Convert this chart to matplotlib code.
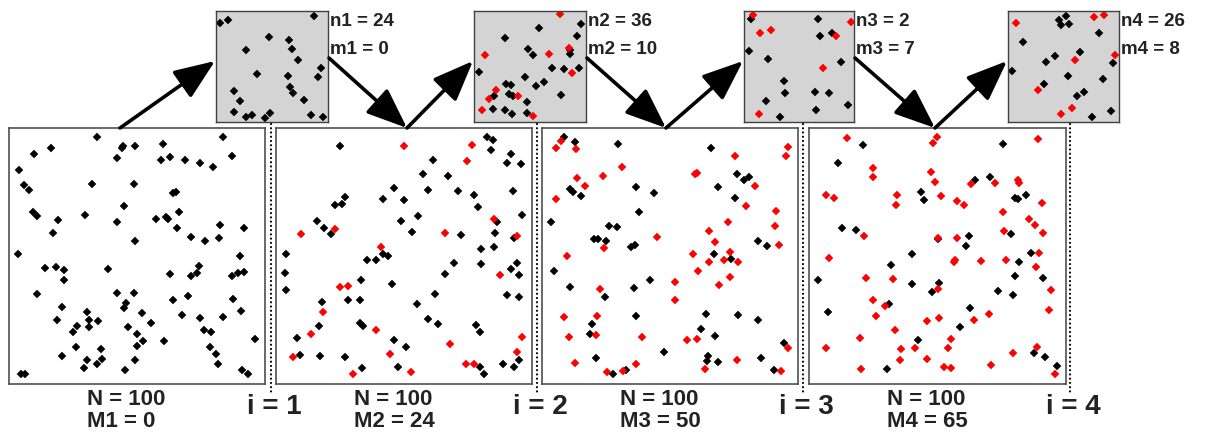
import numpy as np
import matplotlib
matplotlib.use("Agg")
import matplotlib.pyplot as plt
from matplotlib.patches import FancyArrowPatch

plt.rcParams['font.family'] = ['Liberation Sans', 'DejaVu Sans']

# point positions (pixel units inside each panel, y down)
big1_black = [(277,45),(355,70),(352,78),(390,70),(475,64),(655,45),(137,76),(88,95),(337,106),
    (468,113),(496,103),(541,113),(585,122),(624,134),(682,100),(42,143),(57,189),(72,202),
    (261,186),(386,186),(503,213),(512,210),(356,250),(84,268),(97,281),(240,277),(160,293),
    (337,299),(453,290),(484,285),(490,291),(523,268),(517,318),(646,308),(718,318),(143,332),
    (557,345),(599,357),(643,348),(390,357),(39,394),(704,400),(121,436),(152,433),(176,442),
    (176,473),(308,439),(581,430),(575,452),(557,461),(496,455),(682,461),(700,452),(718,449),
    (97,516),(335,513),(386,513),(362,543),(356,558),(548,522),(505,534),(685,531),(707,565),
    (170,555),(246,568),(155,592),(252,592),(280,596),(216,610),(204,628),(252,613),(410,571),
    (438,602),(530,577),(585,586),(655,583),(369,613),(396,635),(413,656),(396,671),(597,622),
    (618,629),(478,656),(749,650),(212,675),(289,681),(615,675),(633,696),(170,702),(246,714),
    (292,711),(237,738),(277,726),(390,714),(359,744),(639,726),(712,742),(728,754),(47,754),(60,754)]
big1_red = []

big2_black = [(646,45),(664,54),(658,82),(716,94),(704,122),(746,125),(204,72),(484,113),(454,156),
    (527,161),(469,202),(557,207),(606,219),(619,253),(722,207),(749,277),(366,198),(333,229),
    (396,232),(220,223),(188,247),(211,244),(134,296),(155,317),(176,335),(387,296),(438,281),
    (420,329),(567,339),(676,299),(670,332),(725,348),(667,375),(628,381),(628,424),(545,421),
    (518,455),(716,439),(734,421),(740,458),(42,394),(40,452),(42,503),(284,412),(311,412),
    (333,394),(348,400),(268,473),(359,485),(229,534),(265,534),(149,540),(490,515),(435,546),
    (704,518),(740,524),(469,589),(497,604),(612,607),(624,629),(264,602),(274,610),(140,610),
    (75,647),(366,653),(403,675),(83,699),(144,702),(220,705),(271,736),(378,733),(625,733),
    (637,754),(694,726),(725,733),(740,714)]
big2_red = [(396,70),(600,67),(585,116),(86,335),(189,320),(520,332),(667,290),(734,342),(326,375),
    (685,458),(204,494),(229,491),(153,568),(116,635),(311,623),(533,665),(749,643),(734,690),
    (353,696),(63,705),(243,754),(418,748),(582,726),(606,726)]

big3_black = [(77,45),(111,58),(241,64),(519,76),(596,156),(619,174),(634,165),(541,195),(592,226),
    (96,201),(104,208),(129,220),(293,195),(348,211),(302,269),(40,299),(213,311),(238,314),
    (168,351),(180,351),(205,357),(280,373),(290,369),(659,357),(686,372),(528,394),(579,409),
    (49,446),(95,494),(287,497),(202,525),(336,473),(293,580),(504,574),(601,577),(659,592),
    (162,605),(155,635),(488,620),(531,641),(737,662),(378,690),(175,706),(510,702),(507,715),
    (540,718),(668,706),(226,754),(265,742),(708,742)]
big3_red = [(53,76),(68,55),(114,79),(251,134),(196,161),(117,168),(141,192),(53,229),(470,156),
    (477,152),(592,101),(749,73),(744,101),(650,192),(625,250),(713,265),(570,299),(711,311),
    (513,326),(531,360),(723,369),(357,345),(199,378),(86,400),(464,394),(513,418),(558,412),
    (576,388),(601,418),(479,446),(576,464),(543,488),(410,479),(410,534),(186,500),(77,583),
    (177,580),(92,644),(174,638),(311,644),(446,653),(476,650),(750,678),(111,723),(293,726),
    (207,748),(256,745),(500,739),(598,714),(729,745)]

big4_black = [(172,67),(593,64),(98,122),(508,174),(553,165),(346,210),(355,232),(628,226),(637,229),
    (659,219),(111,317),(153,323),(489,342),(480,372),(617,336),(398,351),(321,394),(258,428),
    (674,391),(641,418),(628,461),(712,467),(40,473),(321,485),(401,482),(379,510),(577,507),
    (623,519),(252,546),(68,568),(494,556),(462,613),(337,653),(684,693),(716,705),(752,730),(246,739)]
big4_red = [(126,48),(395,45),(382,61),(697,51),(202,137),(202,164),(376,149),(389,180),(497,186),
    (568,183),(637,174),(641,183),(62,219),(87,226),(276,219),(273,247),(407,222),(455,235),
    (474,247),(709,241),(593,268),(669,290),(687,308),(712,332),(596,326),(175,342),(398,348),
    (455,348),(71,406),(448,412),(446,418),(526,415),(602,412),(699,391),(690,434),(181,467),
    (264,470),(398,501),(736,504),(203,534),(240,552),(211,580),(364,595),(401,586),(505,592),
    (549,574),(730,562),(269,623),(163,647),(437,650),(62,678),(288,681),(330,678),(428,678),
    (693,675),(284,714),(364,711),(623,693),(167,739),(416,733),(437,736),(556,727),(748,754)]

small1_black = [(25,52),(48,45),(305,33),(172,94),(229,105),(238,130),(101,133),(257,163),(327,188),
    (317,213),(135,204),(226,210),(67,256),(232,245),(241,263),(83,287),(274,284),(65,318),
    (101,335),(120,329),(158,338),(175,323),(296,329),(333,335)]
small1_red = []

small2_black = [(332,55),(205,67),(104,97),(320,91),(174,131),(189,148),(299,134),(299,146),(26,198),
    (245,186),(282,189),(326,186),(166,213),(107,235),(122,238),(198,241),(220,229),(118,265),
    (128,272),(72,272),(271,268),(170,290),(70,311),(104,314),(126,326),(172,323)]
small2_red = [(268,27),(46,149),(235,146),(296,127),(305,201),(77,253),(58,281),(144,272),(37,314),(189,332)]

small3_black = [(38,40),(240,40),(248,91),(285,82),(32,137),(90,161),(312,170),(138,226),(142,262),
    (232,259),(275,262),(84,287),(333,298),(236,314),(126,335)]
small3_red = [(44,30),(340,50),(65,82),(98,75),(297,91),(257,188),(62,326)]

small4_black = [(188,33),(168,45),(173,60),(197,57),(286,82),(60,110),(230,140),(157,152),(129,170),
    (27,195),(328,174),(194,210),(298,219),(123,235),(242,259),(221,271),(324,317),(266,335)]
small4_red = [(38,54),(272,36),(303,30),(214,163),(334,149),(105,253),(205,308),(175,326)]

big_labels = [("N = 100", "M1 = 0"), ("N = 100", "M2 = 24"), ("N = 100", "M3 = 50"), ("N = 100", "M4 = 65")]
small_labels = [("n1 = 24", "m1 = 0"), ("n2 = 36", "m2 = 10"), ("n3 = 2", "m3 = 7"), ("n4 = 26", "m4 = 8")]
step_labels = ["i = 1", "i = 2", "i = 3", "i = 4"]

W, H = 1213, 436
fig = plt.figure(figsize=(W / 100, H / 100), dpi=100)


def px_axes(x0, y0, x1, y1):
    return fig.add_axes([x0 / W, 1 - y1 / H, (x1 - x0) / W, (y1 - y0) / H])


def draw_points(ax, black, red, size):
    for pts, col in ((black, 'black'), (red, 'red')):
        if pts:
            a = np.array(pts)
            ax.plot(a[:, 0], a[:, 1], 'D', color=col, ms=size, mec=col, mew=0.3)


big_pos = [(9, 128, 265, 384), (276, 128, 532, 384), (542, 128, 798, 384), (809, 128, 1066, 384)]
small_pos = [(216, 11, 328, 122), (474, 11, 586, 122), (744, 11, 854, 122), (1008, 11, 1119, 122)]
bigs = [(big1_black, big1_red), (big2_black, big2_red), (big3_black, big3_red), (big4_black, big4_red)]
smalls = [(small1_black, small1_red), (small2_black, small2_red), (small3_black, small3_red), (small4_black, small4_red)]
small_xlim = [(12, 347), (12, 347), (18, 350), (15, 347)]

for pos, (blk, red) in zip(big_pos, bigs):
    ax = px_axes(*pos)
    draw_points(ax, blk, red, 4.3)
    ax.set_xlim(12, 780)
    ax.set_ylim(785, 17)
    ax.set_xticks([])
    ax.set_yticks([])
    for s in ax.spines.values():
        s.set_color('#505050')
        s.set_linewidth(1.2)

for pos, (blk, red), xl in zip(small_pos, smalls, small_xlim):
    ax = px_axes(*pos)
    ax.set_facecolor('#d4d4d4')
    draw_points(ax, blk, red, 4.3)
    ax.set_xlim(*xl)
    ax.set_ylim(349, 17)
    ax.set_xticks([])
    ax.set_yticks([])
    for s in ax.spines.values():
        s.set_color('#404040')
        s.set_linewidth(1.0)

# overlay in pixel coordinates for arrows, dotted separators and labels
ov = fig.add_axes([0, 0, 1, 1], zorder=5)
ov.set_xlim(0, W)
ov.set_ylim(H, 0)
ov.axis('off')
ov.patch.set_alpha(0)

astyle = '-|>,head_length=1.25,head_width=0.5'
tops = [120, 407, 666, 935]
for k in range(4):
    sx0, sy0, sx1, sy1 = small_pos[k]
    a = FancyArrowPatch((tops[k], 128), (sx0 - 1, 61), arrowstyle=astyle,
                        mutation_scale=20, lw=2.6, color='black', shrinkA=0, shrinkB=0)
    ov.add_patch(a)
    if k < 3:
        a = FancyArrowPatch((sx1 + 1, 58), (tops[k + 1], 128), arrowstyle=astyle,
                            mutation_scale=20, lw=2.6, color='black', shrinkA=0, shrinkB=0)
        ov.add_patch(a)
    ov.text(sx1 + 2, 22, small_labels[k][0], fontsize=13.5, fontweight='bold', color='#222222',
            ha='left', va='center')
    ov.text(sx1 + 2, 50, small_labels[k][1], fontsize=13.5, fontweight='bold', color='#222222',
            ha='left', va='center')

seps = [271, 537, 803, 1070]
for k in range(4):
    ov.plot([seps[k], seps[k]], [124, 393], color='black', lw=1.6,
            linestyle=(0, (0.01, 1.9)), dash_capstyle='round')
    ov.text(seps[k] + 3, 407, step_labels[k], fontsize=20, fontweight='bold', color='#222222',
            ha='center', va='center')
    bx = big_pos[k][0] + 78
    ov.text(bx, 399, big_labels[k][0], fontsize=16, fontweight='bold', color='#222222', ha='left', va='center')
    ov.text(bx, 421, big_labels[k][1], fontsize=16, fontweight='bold', color='#222222', ha='left', va='center')

fig.savefig('out.png', dpi=100)
